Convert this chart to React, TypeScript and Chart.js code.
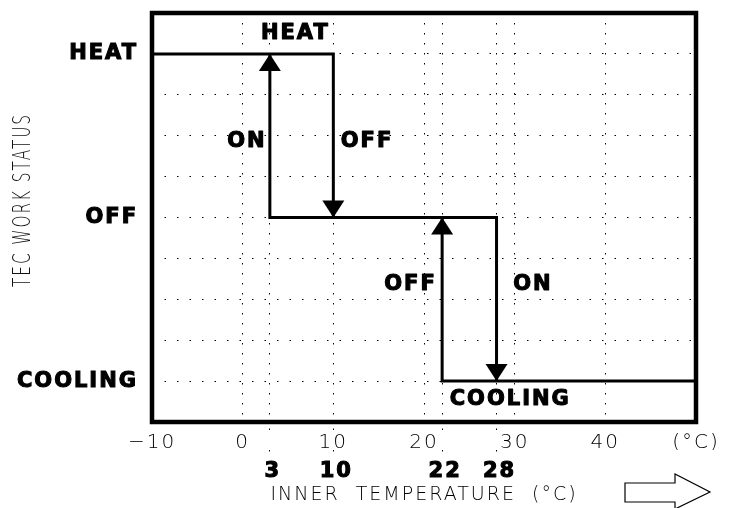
import React, { useEffect, useRef } from 'react';
import { Chart, registerables } from 'chart.js';

Chart.register(...registerables);

// ---- data ----
const statusNames = ['COOLING', 'OFF', 'HEAT'];
const statusLevels = [1, 5, 9];
const tempTicks = [-10, 0, 10, 20, 30, 40, 50];
const tempTickLabels = ['−10', '0', '10', '20', '30', '40', '(°C)'];
const switchTemps = [3, 10, 22, 28];
// hysteresis path (null level = gap)
const pathTemp = [-10, 10, 10, 10, 3, 3, 28, 28, 28, 22, 22, 50];
const pathLevel = [9, 9, 5, null, 9, 5, 5, 1, null, 5, 1, 1];
// arrow heads
const arrowTemp = [3, 10, 22, 28];
const arrowFrom = [5, 9, 1, 5];
const arrowTo = [9, 5, 5, 1];
// annotations
const noteText = ['HEAT', 'ON', 'OFF', 'OFF', 'ON', 'COOLING'];
const noteTemp = [5.7, 0.35, 13.6, 18.4, 31.9, 29.4];
const noteLevel = [9.5, 6.85, 6.85, 3.35, 3.35, 0.56];
const yTitle = 'TEC WORK STATUS';

const BOLD_FAMILY = "'DejaVu Sans', sans-serif";
const THIN_FAMILY = "'DejaVu Sans', sans-serif";

const decorPlugin = {
  id: 'decor',
  beforeLayout(chart: any) {
    chart.ctx.letterSpacing = '2px';
  },
  beforeDraw(chart: any) {
    chart.ctx.letterSpacing = '2px';
  },
  afterDatasetsDraw(chart: any) {
    const { ctx, chartArea: a } = chart;
    const x = chart.scales.x;
    const y = chart.scales.y;
    ctx.save();
    ctx.fillStyle = '#000';
    arrowTemp.forEach((t, i) => {
      const px = x.getPixelForValue(t);
      const tip = y.getPixelForValue(arrowTo[i]);
      const dir = arrowTo[i] > arrowFrom[i] ? 1 : -1;
      const base = tip + dir * 17;
      ctx.beginPath();
      ctx.moveTo(px, tip);
      ctx.lineTo(px - 11, base);
      ctx.lineTo(px + 11, base);
      ctx.closePath();
      ctx.fill();
    });
    ctx.font = `bold 21px ${BOLD_FAMILY}`;
    ctx.textAlign = 'center';
    ctx.textBaseline = 'middle';
    ctx.letterSpacing = '2px';
    ctx.strokeStyle = '#000';
    ctx.lineWidth = 1.1;
    ctx.lineJoin = 'round';
    noteText.forEach((s, i) => {
      const px = x.getPixelForValue(noteTemp[i]) + 1;
      const py = y.getPixelForValue(noteLevel[i]);
      ctx.strokeText(s, px, py);
      ctx.fillText(s, px, py);
    });
    ctx.lineWidth = 4.5;
    ctx.lineJoin = 'miter';
    ctx.strokeRect(a.left, a.top, a.right - a.left, a.bottom - a.top);
    // outlined arrow bottom right
    ctx.lineWidth = 1.2;
    ctx.beginPath();
    ctx.moveTo(625, 483);
    ctx.lineTo(675, 483);
    ctx.lineTo(675, 474);
    ctx.lineTo(710, 492);
    ctx.lineTo(675, 509);
    ctx.lineTo(675, 502);
    ctx.lineTo(625, 502);
    ctx.closePath();
    ctx.stroke();
    ctx.restore();

    // condensed vertical axis title
    ctx.save();
    ctx.translate(24, 200);
    ctx.rotate(-Math.PI / 2);
    ctx.scale(0.64, 1);
    ctx.letterSpacing = '3px';
    ctx.font = `200 24px ${THIN_FAMILY}`;
    ctx.fillStyle = '#111';
    ctx.textAlign = 'center';
    ctx.textBaseline = 'middle';
    ctx.fillText(yTitle, 0, 0);
    ctx.restore();
  },
};

export default function App() {
  const ref = useRef<HTMLCanvasElement | null>(null);
  useEffect(() => {
    if (!ref.current) return;
    const data = pathTemp.map((t, i) => ({ x: t, y: pathLevel[i] }));
    const chart = new Chart(ref.current, {
      type: 'line',
      data: {
        datasets: [
          {
            data,
            borderColor: '#000',
            borderWidth: 3,
            pointRadius: 0,
            tension: 0,
            spanGaps: false,
            borderCapStyle: 'square',
            borderJoinStyle: 'miter',
          } as any,
        ],
      },
      options: {
        responsive: true,
        maintainAspectRatio: false,
        animation: false,
        layout: { padding: { top: 13, right: 34, left: 0, bottom: 0 } },
        plugins: { legend: { display: false }, tooltip: { enabled: false } },
        scales: {
          x: {
            type: 'linear',
            position: 'bottom',
            min: -10,
            max: 50,
            afterBuildTicks: (s: any) => {
              s.ticks = [...tempTicks, 3, 22, 28].sort((a, b) => a - b).map((v) => ({ value: v }));
            },
            ticks: {
              autoSkip: false,
              maxRotation: 0,
              padding: 1,
              color: '#000',
              font: { family: THIN_FAMILY, size: 20, weight: '200' as any },
              callback: (v: any) => {
                const i = tempTicks.indexOf(Number(v));
                return i >= 0 ? tempTickLabels[i] : '';
              },
            },
            grid: {
              color: '#000',
              lineWidth: 1,
              drawTicks: true,
              tickLength: 8,
              tickWidth: 1,
              tickBorderDash: [1.5, 5],
              tickColor: (c: any) => (c.tick && switchTemps.includes(c.tick.value) ? '#000' : 'rgba(0,0,0,0)'),
            },
            border: { display: false, dash: [1.5, 8.5] },
            afterFit: (s: any) => {
              s.height = 28;
              s.paddingLeft = 0;
              s.paddingRight = 0;
            },
          },
          y: {
            type: 'linear',
            min: 0,
            max: 10,
            ticks: {
              stepSize: 1,
              autoSkip: false,
              padding: 14,
              color: '#000',
              textStrokeColor: '#000',
              textStrokeWidth: 1.1,
              font: { family: BOLD_FAMILY, size: 21, weight: 'bold' },
              callback: (v: any) => {
                const i = statusLevels.indexOf(Number(v));
                return i >= 0 ? statusNames[i] : '';
              },
            },
            grid: { color: '#000', lineWidth: 1, drawTicks: false },
            border: { display: false, dash: [1.5, 11] },
            afterFit: (s: any) => {
              s.width = 152;
              s.paddingTop = 0;
              s.paddingBottom = 0;
            },
          },
          x2: {
            type: 'linear',
            position: 'bottom',
            min: -10,
            max: 50,
            afterBuildTicks: (s: any) => {
              s.ticks = switchTemps.map((v) => ({ value: v }));
            },
            ticks: {
              autoSkip: false,
              maxRotation: 0,
              padding: 4,
              labelOffset: 3,
              color: '#000',
              textStrokeColor: '#000',
              textStrokeWidth: 1.1,
              font: { family: BOLD_FAMILY, size: 21, weight: 'bold' },
              callback: (v: any) => String(v),
            },
            grid: {
              drawOnChartArea: false,
              drawTicks: true,
              tickLength: 5,
              tickColor: '#000',
              tickBorderDash: [1.5, 4],
            },
            border: { display: false },
            title: {
              display: true,
              text: 'INNER  TEMPERATURE  (°C)',
              color: '#000',
              font: { family: THIN_FAMILY, size: 19, weight: '200' as any },
              padding: { top: 0, bottom: 2 },
            },
            afterFit: (s: any) => {
              s.height = 58;
              s.paddingLeft = 0;
              s.paddingRight = 0;
            },
          },
        },
      } as any,
      plugins: [decorPlugin],
    });
    return () => chart.destroy();
  }, []);
  return (
    <div style={{ position: 'fixed', left: 0, top: 0, width: 730, height: 508, background: '#fff' }}>
      <canvas ref={ref} />
    </div>
  );
}
